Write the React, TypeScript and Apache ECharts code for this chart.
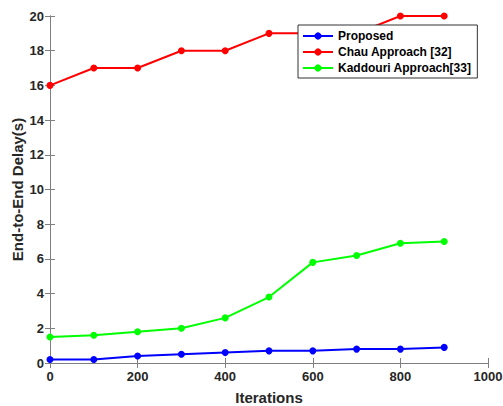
import React, { useEffect, useRef } from "react";
import * as echarts from "echarts";

const iterations = [0, 100, 200, 300, 400, 500, 600, 700, 800, 900];
const proposed = [0.2, 0.2, 0.4, 0.5, 0.6, 0.7, 0.7, 0.8, 0.8, 0.9];
const chau = [16, 17, 17, 18, 18, 19, 19, 19, 20, 20];
const kaddouri = [1.5, 1.6, 1.8, 2.0, 2.6, 3.8, 5.8, 6.2, 6.9, 7.0];
const seriesNames = ["Proposed", "Chau Approach [32]", "Kaddouri Approach[33]"];
const seriesColors = ["#0000ff", "#ff0000", "#00ff00"];

const FONT = "Liberation Sans, Arial, sans-serif";

export default function App() {
  const ref = useRef<HTMLDivElement>(null);
  useEffect(() => {
    if (!ref.current) return;
    const chart = echarts.init(ref.current, undefined, { renderer: "svg" });
    const pair = (vals: number[]) => iterations.map((x, i) => [x, vals[i]]);
    const axisLine = { show: true, lineStyle: { color: "#7f7f7f", width: 1 } };
    const tick = { show: true, inside: true, length: 5, lineStyle: { color: "#7f7f7f" } };
    const label = {
      color: "#262626",
      fontWeight: "bold" as const,
      fontSize: 13,
      fontFamily: FONT,
      formatter: (v: number) => String(v),
    };
    const nameStyle = { color: "#262626", fontWeight: "bold" as const, fontSize: 15, fontFamily: FONT };
    const mk = (name: string, vals: number[], color: string) => ({
      name,
      type: "line",
      data: pair(vals),
      symbol: "circle",
      symbolSize: 7,
      lineStyle: { color, width: 2 },
      itemStyle: { color },
      z: 3,
    });
    chart.setOption({
      animation: false,
      backgroundColor: "#ffffff",
      grid: { left: 50, right: 15, top: 16, bottom: 43, containLabel: false, outerBoundsMode: "none" },
      legend: {
        orient: "vertical",
        left: 298,
        top: 25,
        width: 181,
        backgroundColor: "#ffffff",
        borderColor: "#333333",
        borderWidth: 1,
        borderRadius: 0,
        padding: [5, 6, 4, 4],
        itemGap: 4,
        itemWidth: 30,
        itemHeight: 9,
        textStyle: { color: "#000", fontWeight: "bold", fontSize: 12, fontFamily: FONT },
        data: seriesNames,
        z: 10,
      },
      xAxis: [
        {
          type: "value",
          min: 0,
          max: 1000,
          interval: 200,
          name: "Iterations",
          nameLocation: "middle",
          nameGap: 27,
          nameMoveOverlap: false,
          nameTextStyle: nameStyle,
          axisLine,
          axisTick: tick,
          axisLabel: { ...label, margin: 7 },
          splitLine: { show: false },
        },
        {
          type: "value",
          position: "top",
          min: 0,
          max: 1000,
          interval: 200,
          axisLine,
          axisTick: tick,
          axisLabel: { show: false },
          splitLine: { show: false },
        },
      ],
      yAxis: [
        {
          type: "value",
          min: 0,
          max: 20,
          interval: 2,
          name: "End-to-End Delay(s)",
          nameLocation: "middle",
          nameGap: 25,
          nameMoveOverlap: false,
          nameTextStyle: nameStyle,
          axisLine,
          axisTick: tick,
          axisLabel: { ...label, margin: 6 },
          splitLine: { show: false },
        },
        {
          type: "value",
          position: "right",
          min: 0,
          max: 20,
          interval: 2,
          axisLine,
          axisTick: tick,
          axisLabel: { show: false },
          splitLine: { show: false },
        },
      ],
      series: [
        mk(seriesNames[0], proposed, seriesColors[0]),
        mk(seriesNames[1], chau, seriesColors[1]),
        mk(seriesNames[2], kaddouri, seriesColors[2]),
      ],
    });
    return () => chart.dispose();
  }, []);
  return <div ref={ref} style={{ width: 503, height: 406, position: "absolute", left: 0, top: 0 }} />;
}
